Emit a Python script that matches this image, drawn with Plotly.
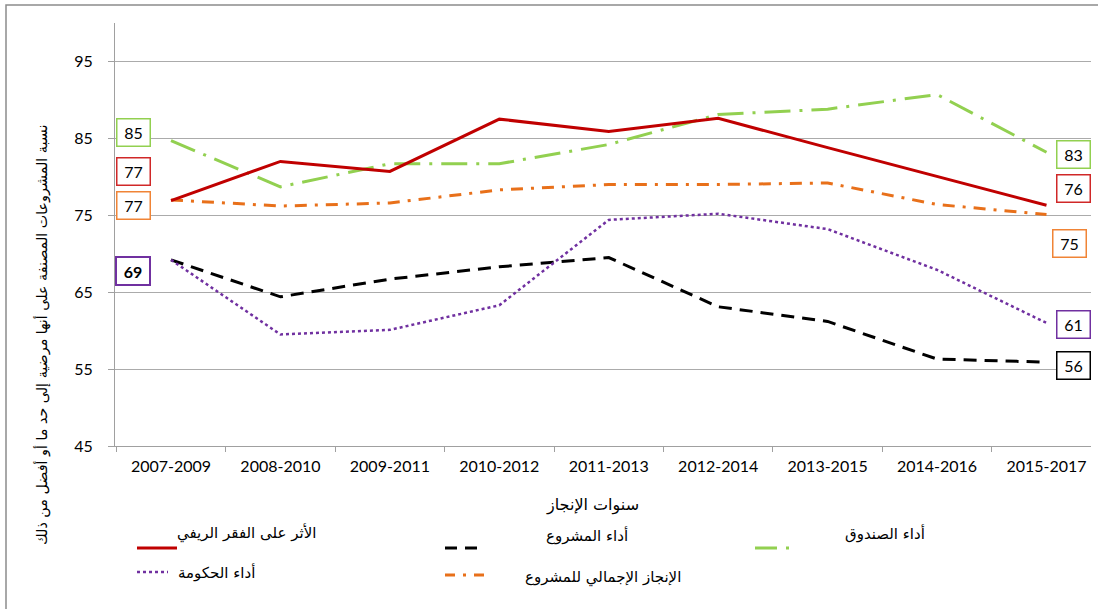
import plotly.graph_objects as go

# ---------------- data ----------------
periods = ["2007-2009", "2008-2010", "2009-2011", "2010-2012", "2011-2013",
           "2012-2014", "2013-2015", "2014-2016", "2015-2017"]
rural_poverty = [76.9, 82.0, 80.7, 87.5, 85.9, 87.6, 83.8, 80.1, 76.3]
project_perf = [69.2, 64.4, 66.7, 68.3, 69.5, 63.1, 61.2, 56.3, 55.9]
ifad_perf = [84.7, 78.7, 81.7, 81.7, 84.2, 88.1, 88.8, 90.7, 83.2]
overall_achievement = [77.0, 76.2, 76.6, 78.3, 79.0, 79.0, 79.2, 76.4, 75.1]
government_perf = [69.2, 59.5, 60.1, 63.3, 74.4, 75.2, 73.2, 67.9, 61.0]

names = {
    "rural": "الأثر على الفقر الريفي",
    "project": "أداء المشروع",
    "ifad": "أداء الصندوق",
    "gov": "أداء الحكومة",
    "overall": "الإنجاز الإجمالي للمشروع",
}
y_title = "نسبة المشروعات المصنفة على أنها مرضية إلى حد ما أو أفضل من ذلك"
x_title = "سنوات الإنجاز"
y_ticks = [45, 55, 65, 75, 85, 95]

# ---------------- styling ----------------
W, H = 1098, 609
L, R, T, B = 115, 7, 23, 163
NUM_FONT = "Lato, 'DejaVu Sans', sans-serif"
AR_FONT = "'DejaVu Sans', sans-serif"

RED = "#C00000"
BLACK = "#000000"
GREEN = "#92D050"
ORANGE = "#E8701A"
PURPLE = "#7030A0"

styles = {
    "rural": dict(color=RED, width=3, dash="solid"),
    "project": dict(color=BLACK, width=3, dash="13px,8px"),
    "ifad": dict(color=GREEN, width=3, dash="26px,9px,3px,9px"),
    "overall": dict(color=ORANGE, width=3, dash="12px,8px,3px,8px"),
    "gov": dict(color=PURPLE, width=2.5, dash="dot"),
}
series = {
    "ifad": ifad_perf,
    "overall": overall_achievement,
    "rural": rural_poverty,
    "project": project_perf,
    "gov": government_perf,
}


def px(x):
    return (x - L) / (W - L - R)


def py(y):
    return (H - B - y) / (H - B - T)


fig = go.Figure()
for key, vals in series.items():
    fig.add_trace(go.Scatter(
        x=periods, y=vals, mode="lines", name=names[key],
        line=styles[key], showlegend=False, hoverinfo="x+y+name",
    ))

annotations = []


def box(x, val, color, xshift, yshift, bold=False, bw=1.5):
    txt = str(int(round(val)))
    if bold:
        txt = "<b>" + txt + "</b>"
    annotations.append(dict(
        x=x, y=val, xref="x", yref="y", text=txt, showarrow=False,
        xshift=xshift, yshift=yshift, bordercolor=color, borderwidth=bw,
        borderpad=1, width=30, height=24, bgcolor="white",
        font=dict(family=NUM_FONT, size=16, color="#000"),
    ))


# left labels
box(periods[0], ifad_perf[0], GREEN, -38, 8)
box(periods[0], rural_poverty[0], "#D02828", -38, 29)
box(periods[0], overall_achievement[0], "#F08436", -38, -6)
box(periods[0], government_perf[0], PURPLE, -38, -11, bold=True, bw=2)
# right labels
box(periods[-1], ifad_perf[-1], GREEN, 27, -2)
box(periods[-1], rural_poverty[-1], "#D02828", 27, 17)
box(periods[-1], overall_achievement[-1], "#F08436", 23, -29)
box(periods[-1], government_perf[-1], PURPLE, 27, -2)
box(periods[-1], project_perf[-1], BLACK, 27, -3)

# axis titles
annotations.append(dict(
    x=px(592), y=py(505), xref="paper", yref="paper", text=x_title,
    showarrow=False, font=dict(family=AR_FONT, size=16, color="#000"),
    xanchor="center", yanchor="middle"))
annotations.append(dict(
    x=px(42), y=py(335), xref="paper", yref="paper", text=y_title,
    showarrow=False, textangle=-90,
    font=dict(family=AR_FONT, size=14.3, color="#000"),
    xanchor="center", yanchor="middle"))

# legend (manual, as in the original layout)
legend_items = [
    ("rural", (137, 177, 548), (318, 533)),
    ("project", (445, 477, 548), (630, 535)),
    ("ifad", (755, 790, 548), (927, 533)),
    ("gov", (137, 168, 572), (257, 572)),
    ("overall", (445, 485, 575), (683, 577)),
]
legend_dash = {
    "rural": "solid", "project": "12px,8px", "ifad": "22px,9px,3px,9px",
    "gov": "dot", "overall": "10px,8px,3px,8px",
}
shapes = []
for key, (x0, x1, yy), (tx, ty) in legend_items:
    st = styles[key]
    shapes.append(dict(
        type="line", xref="paper", yref="paper",
        x0=px(x0), x1=px(x1), y0=py(yy), y1=py(yy),
        line=dict(color=st["color"], width=st["width"], dash=legend_dash[key]),
    ))
    annotations.append(dict(
        x=px(tx), y=py(ty), xref="paper", yref="paper", text=names[key],
        showarrow=False, xanchor="right", yanchor="middle",
        font=dict(family=AR_FONT, size=15, color="#000"),
    ))

# outer chart border
shapes.append(dict(
    type="rect", xref="paper", yref="paper",
    x0=px(6), x1=px(W + 5), y0=py(H + 5), y1=py(5),
    line=dict(color="#8C8C8C", width=1.5), fillcolor="rgba(0,0,0,0)",
    layer="below",
))

fig.update_layout(
    width=W, height=H,
    margin=dict(l=L, r=R, t=T, b=B, pad=0),
    paper_bgcolor="white", plot_bgcolor="white",
    font=dict(family=NUM_FONT, size=16, color="#000"),
    annotations=annotations, shapes=shapes,
    hovermode="closest",
)
fig.update_xaxes(
    type="category", showgrid=False, showline=True, linecolor="#A0A0A0",
    linewidth=1, ticks="outside", tickson="boundaries", ticklen=5,
    tickcolor="#A0A0A0", tickfont=dict(family=NUM_FONT, size=16, color="#000"),
    ticklabelstandoff=6, zeroline=False, fixedrange=True,
)
fig.update_yaxes(
    range=[45, 100], tickvals=y_ticks, showgrid=True, gridcolor="#ABABAB",
    gridwidth=1, showline=True, linecolor="#A0A0A0", linewidth=1,
    ticks="outside", ticklen=6, tickcolor="#A0A0A0",
    tickfont=dict(family=NUM_FONT, size=16, color="#000"),
    ticklabelstandoff=12, zeroline=False, fixedrange=True,
)

fig.write_html(
    "out.html",
    config={"displayModeBar": False},
    post_script="document.body.style.margin='0';document.body.style.overflow='hidden';",
)
